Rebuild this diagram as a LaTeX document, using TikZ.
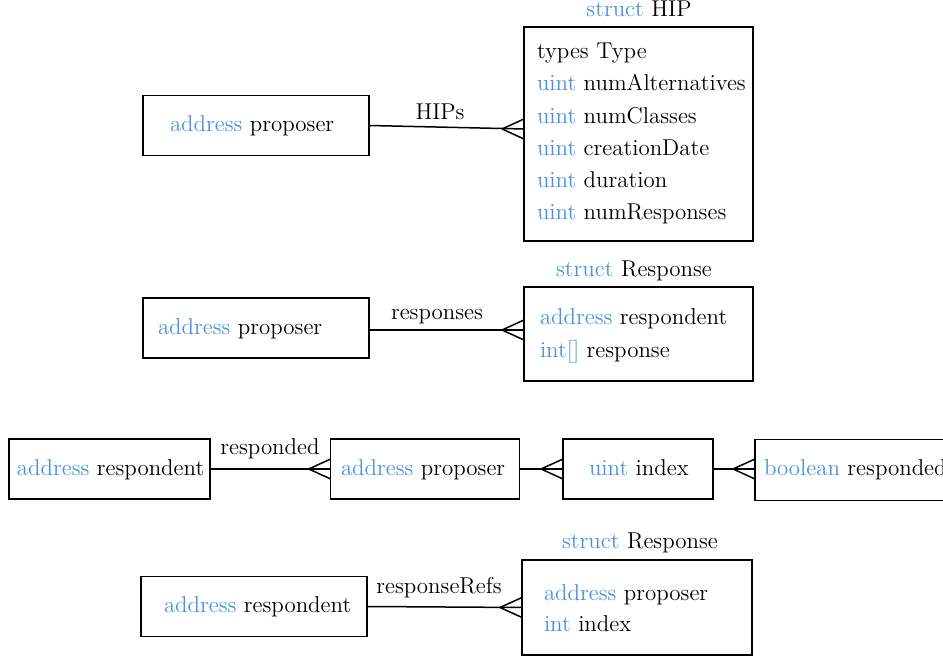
\documentclass[tikz,border=0pt]{standalone}
\usepackage{fontspec}
\usetikzlibrary{calc}
\definecolor{kwblue}{RGB}{74,144,226}
\newcommand{\kw}[1]{\textcolor{kwblue}{#1}}
\newcommand{\crowfoot}[1]{\draw[conn] ([xshift=-11pt]#1) -- ([yshift=5pt]#1) ([xshift=-11pt]#1) -- ([yshift=-5pt]#1);}
\begin{document}
\begin{tikzpicture}[x=0.5pt,y=-0.5pt,
  every node/.style={font=\fontsize{11.45}{13}\selectfont, inner sep=0pt, outer sep=0pt},
  box/.style={draw, line width=0.75pt, minimum height=30pt},
  txt/.style={anchor=base west},
  lbl/.style={anchor=base},
  conn/.style={line width=0.75pt}]
\useasboundingbox (0,0) rectangle (943,656);
\clip (0,0) rectangle (943,656);

% ---- HIP ----
\node[lbl] (hiplbl) at (639,17) {\kw{struct} HIP};
\node[box, minimum width=114.5pt, minimum height=107pt] (hip) at (638.5,134) {};
\node[txt] (h1) at (537,58.3) {types Type};
\node[txt] (h2) at (537,90.8) {\kw{uint} numAlternatives};
\node[txt] (h3) at (537,123.1) {\kw{uint} numClasses};
\node[txt] (h4) at (537,155.4) {\kw{uint} creationDate};
\node[txt] (h5) at (537,187.7) {\kw{uint} duration};
\node[txt] (h6) at (537,220) {\kw{uint} numResponses};

\node[box, minimum width=113pt] (p1) at (256,125.5) {};
\node[txt] (p1t) at (170,132) {\kw{address} proposer};
\coordinate (hipin) at ([yshift=2.5pt]hip.west);
\draw[conn] (p1.east) -- (hipin);
\crowfoot{hipin}
\node[lbl] (l1) at (440,119.5) {HIPs};

% ---- Response 1 ----
\node[lbl] (r1lbl) at (634,277) {\kw{struct} Response};
\node[box, minimum width=114.5pt, minimum height=47pt] (resp1) at (638.5,334) {};
\node[txt] (r1a) at (540,325) {\kw{address} respondent};
\node[txt] (r1b) at (540,357.3) {\kw{int[]} response};

\node[box, minimum width=113pt] (p2) at (256,328) {};
\node[txt] (p2t) at (158,335) {\kw{address} proposer};
\coordinate (resp1in) at ([yshift=2pt]resp1.west);
\draw[conn] ([yshift=-1pt]p2.east) -- (resp1in);
\crowfoot{resp1in}
\node[lbl] (l2) at (437,319.5) {responses};

% ---- row 3 ----
\node[box, minimum width=100.5pt] (ra) at (109.5,469) {};
\node[txt] (rat) at (17,475.5) {\kw{address} respondent};
\node[box, minimum width=94.3pt] (rb) at (425,469) {};
\node[txt] (rbt) at (341,475.5) {\kw{address} proposer};
\node[box, minimum width=75pt] (rc) at (638,469) {};
\node[txt] (rct) at (589,475.5) {\kw{uint} index};
\node[box, minimum width=115pt, minimum height=30.5pt] (rd) at (870,470) {};
\node[txt] (rdt) at (764,476) {\kw{boolean} responded};

\draw[conn] (ra.east) -- (rb.west);
\crowfoot{rb.west}
\node[lbl] (l3) at (270,455) {responded};
\draw[conn] (rb.east) -- (rc.west);
\crowfoot{rc.west}
\coordinate (rdin) at ([yshift=0.5pt]rd.west);
\draw[conn] (rc.east) -- (rdin);
\crowfoot{rdin}

% ---- Response 2 ----
\node[lbl] (r2lbl) at (640,548.3) {\kw{struct} Response};
\node[box, minimum width=115pt, minimum height=47.5pt] (resp2) at (637,607.5) {};
\node[txt] (r2a) at (544,600.7) {\kw{address} proposer};
\node[txt] (r2b) at (544,631.7) {\kw{int} index};

\node[box, minimum width=113pt] (p4) at (254,606.5) {};
\node[txt] (p4t) at (164,612.5) {\kw{address} respondent};
\draw[conn] (p4.east) -- (resp2.west);
\crowfoot{resp2.west}
\node[lbl] (l4) at (439,594) {responseRefs};
\end{tikzpicture}
\end{document}
